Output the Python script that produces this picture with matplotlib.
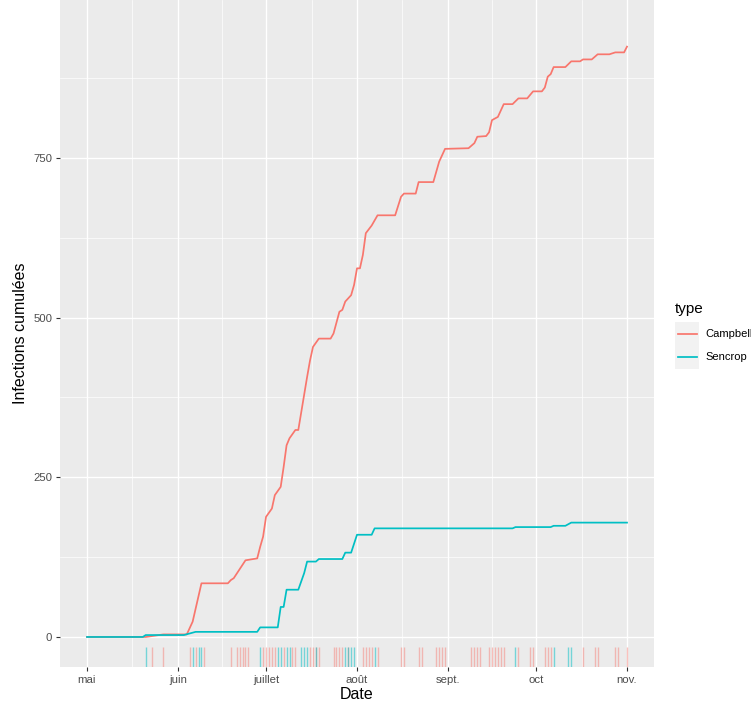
import matplotlib
matplotlib.use("Agg")
import matplotlib.pyplot as plt
import pandas as pd
from matplotlib.patches import Rectangle
from matplotlib.lines import Line2D

# ---------------- data ----------------
campbell_dates = ["2021-05-01", "2021-05-21", "2021-05-24", "2021-05-27", "2021-06-04", "2021-06-06",
                  "2021-06-09", "2021-06-18", "2021-06-19", "2021-06-20", "2021-06-24", "2021-06-28",
                  "2021-06-29", "2021-06-30", "2021-07-01", "2021-07-03", "2021-07-04", "2021-07-06",
                  "2021-07-07", "2021-07-08", "2021-07-09", "2021-07-11", "2021-07-12", "2021-07-15",
                  "2021-07-16", "2021-07-17", "2021-07-19", "2021-07-23", "2021-07-24", "2021-07-26",
                  "2021-07-27", "2021-07-28", "2021-07-30", "2021-07-31", "2021-08-01", "2021-08-02",
                  "2021-08-03", "2021-08-04", "2021-08-06", "2021-08-08", "2021-08-14", "2021-08-16",
                  "2021-08-17", "2021-08-21", "2021-08-22", "2021-08-27", "2021-08-29", "2021-08-31",
                  "2021-09-08", "2021-09-10", "2021-09-11", "2021-09-14", "2021-09-15", "2021-09-16",
                  "2021-09-18", "2021-09-20", "2021-09-23", "2021-09-25", "2021-09-28", "2021-09-30",
                  "2021-10-03", "2021-10-04", "2021-10-05", "2021-10-06", "2021-10-07", "2021-10-11",
                  "2021-10-13", "2021-10-16", "2021-10-17", "2021-10-20", "2021-10-22", "2021-10-26",
                  "2021-10-28", "2021-10-31", "2021-11-01"]
campbell_cum = [0, 0, 2, 4, 4, 24,
                84, 84, 89, 92, 120, 123,
                141, 157, 188, 201, 222, 235,
                266, 300, 311, 324, 324, 407,
                433, 454, 467, 467, 475, 509,
                512, 525, 535, 551, 577, 577,
                598, 632, 644, 660, 660, 689,
                694, 694, 712, 712, 744, 764,
                765, 773, 783, 784, 790, 809,
                814, 834, 834, 843, 843, 854,
                854, 860, 877, 881, 892, 892,
                901, 901, 904, 904, 912, 912,
                915, 915, 924]

sencrop_dates = ["2021-05-01", "2021-05-20", "2021-05-21", "2021-06-03", "2021-06-07", "2021-06-28",
                 "2021-06-29", "2021-07-05", "2021-07-06", "2021-07-07", "2021-07-08", "2021-07-12",
                 "2021-07-14", "2021-07-15", "2021-07-18", "2021-07-19", "2021-07-27", "2021-07-28",
                 "2021-07-30", "2021-08-01", "2021-08-06", "2021-08-07", "2021-09-23", "2021-09-24",
                 "2021-10-06", "2021-10-07", "2021-10-11", "2021-10-13", "2021-11-01"]
sencrop_cum = [0, 0, 3, 3, 8, 8,
               15, 15, 47, 47, 74, 74,
               100, 118, 118, 122, 122, 132,
               132, 160, 160, 170, 170, 172,
               172, 174, 174, 179, 179]

campbell_events = ["2021-05-23", "2021-05-27", "2021-06-05", "2021-06-07", "2021-06-10",
                   "2021-06-19", "2021-06-21", "2021-06-22", "2021-06-23", "2021-06-24", "2021-06-25",
                   "2021-06-30", "2021-07-01", "2021-07-02", "2021-07-03", "2021-07-04", "2021-07-07",
                   "2021-07-10", "2021-07-11", "2021-07-16", "2021-07-17", "2021-07-18", "2021-07-19",
                   "2021-07-24", "2021-07-25", "2021-07-26", "2021-07-27", "2021-07-29",
                   "2021-08-03", "2021-08-04", "2021-08-05", "2021-08-06", "2021-08-08",
                   "2021-08-16", "2021-08-17", "2021-08-22", "2021-08-23",
                   "2021-08-28", "2021-08-29", "2021-08-30", "2021-08-31",
                   "2021-09-09", "2021-09-10", "2021-09-11", "2021-09-12",
                   "2021-09-15", "2021-09-16", "2021-09-17", "2021-09-18", "2021-09-19", "2021-09-20",
                   "2021-09-25", "2021-09-29", "2021-09-30",
                   "2021-10-04", "2021-10-05", "2021-10-06", "2021-10-17",
                   "2021-10-21", "2021-10-22", "2021-10-28", "2021-10-29", "2021-11-01"]
sencrop_events = ["2021-05-21", "2021-06-06", "2021-06-08", "2021-06-09", "2021-06-29",
                  "2021-07-05", "2021-07-06", "2021-07-08", "2021-07-09", "2021-07-13",
                  "2021-07-14", "2021-07-15", "2021-07-18", "2021-07-28", "2021-07-29",
                  "2021-07-30", "2021-07-31", "2021-08-07", "2021-09-24", "2021-10-07",
                  "2021-10-12", "2021-10-13"]

month_ticks = ["2021-05-01", "2021-06-01", "2021-07-01", "2021-08-01", "2021-09-01",
               "2021-10-01", "2021-11-01"]
month_labels = ["mai", "juin", "juillet", "août", "sept.", "oct", "nov."]
y_ticks = [0, 250, 500, 750]

series_names = ["Campbell", "Sencrop"]
colors = ["#F8766D", "#00BFC4"]

# ---------------- figure ----------------
plt.rcParams["font.family"] = ["Liberation Sans", "DejaVu Sans"]
W, H = 751, 703
fig = plt.figure(figsize=(W / 100, H / 100), dpi=100)
ax = fig.add_axes([60 / W, 1 - 667 / H, (654 - 60) / W, 667 / H])
ax.set_facecolor("#EBEBEB")
for s in ax.spines.values():
    s.set_visible(False)

cd = pd.to_datetime(campbell_dates)
sd = pd.to_datetime(sencrop_dates)
ax.plot(cd, campbell_cum, color=colors[0], lw=1.25, zorder=3)
ax.plot(sd, sencrop_cum, color=colors[1], lw=1.25, zorder=3)

trans = ax.get_xaxis_transform()
ax.vlines(pd.to_datetime(campbell_events), 0, 0.03, transform=trans,
          colors=colors[0], alpha=0.45, lw=1.0, zorder=2)
ax.vlines(pd.to_datetime(sencrop_events), 0, 0.03, transform=trans,
          colors=colors[1], alpha=0.5, lw=1.0, zorder=2)

mt = pd.to_datetime(month_ticks)
span = mt[-1] - mt[0]
ax.set_xlim(mt[0] - span * 0.05, mt[-1] + span * 0.05)
ax.set_ylim(-47, 997)

ax.set_xticks(mt)
ax.set_xticklabels(month_labels)
minor_x = [mt[i] + (mt[i + 1] - mt[i]) / 2 for i in range(len(mt) - 1)]
ax.set_xticks(minor_x, minor=True)
ax.set_yticks(y_ticks)
ax.set_yticklabels([str(v) for v in y_ticks])
ax.set_yticks([125, 375, 625, 875], minor=True)

ax.grid(which="major", color="white", lw=1.0)
ax.grid(which="minor", color="white", lw=0.5)
ax.set_axisbelow(True)
ax.tick_params(which="major", length=3, width=0.8, color="#333333",
               labelcolor="#4D4D4D", labelsize=8.2, pad=2.5)
ax.tick_params(which="minor", length=0)

ax.set_xlabel("Date", fontsize=11.5, color="black", labelpad=2)
ax.set_ylabel("Infections cumulées", fontsize=11.5, color="black", labelpad=4)

# ---------------- legend (manual, ggplot style) ----------------
def fx(x):
    return x / W

def fy(y):
    return 1 - y / H

fig.text(fx(675), fy(309), "type", fontsize=11, va="center", ha="left")
key_top = 322
key_h = 23.5
for i, (name, col) in enumerate(zip(series_names, colors)):
    y0 = key_top + i * key_h
    fig.add_artist(Rectangle((fx(675), fy(y0 + key_h)), (699 - 675) / W, key_h / H,
                             transform=fig.transFigure, facecolor="#F2F2F2", edgecolor="none"))
    yc = y0 + key_h / 2
    fig.add_artist(Line2D([fx(677.5), fx(696.5)], [fy(yc), fy(yc)],
                          transform=fig.transFigure, color=col, lw=1.25))
    fig.text(fx(705), fy(yc), name, fontsize=8.0, va="center", ha="left")

fig.savefig("out.png", dpi=100)
